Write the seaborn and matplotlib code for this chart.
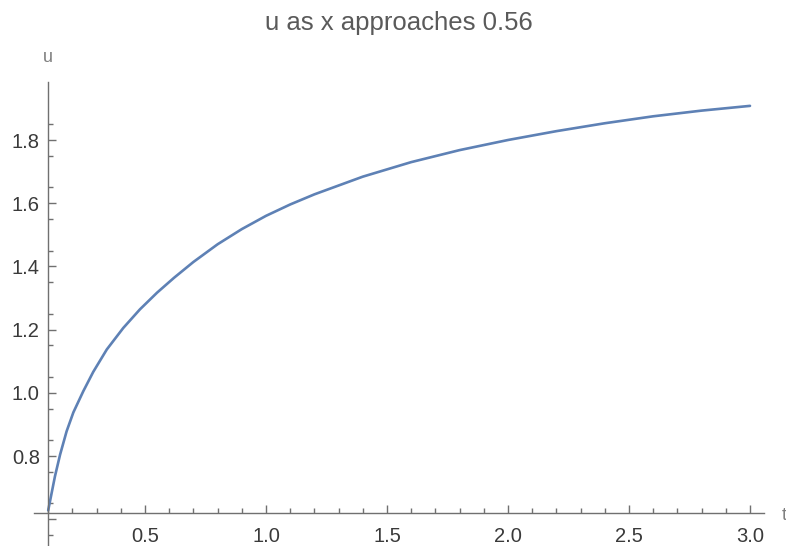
import numpy as np
import pandas as pd
import matplotlib
matplotlib.use("Agg")
import matplotlib.pyplot as plt
import seaborn as sns
from matplotlib.ticker import FixedLocator, FixedFormatter

# ---- data ----
t_vals = [0.100, 0.107, 0.128, 0.149, 0.176, 0.204, 0.245, 0.286, 0.342,
          0.410, 0.479, 0.55, 0.62, 0.70, 0.80, 0.90, 1.00, 1.10, 1.20,
          1.40, 1.60, 1.80, 2.00, 2.20, 2.40, 2.60, 2.80, 3.00]
u_vals = [0.628, 0.655, 0.736, 0.804, 0.878, 0.938, 1.005, 1.066, 1.137,
          1.205, 1.264, 1.317, 1.364, 1.414, 1.470, 1.518, 1.560, 1.596, 1.628,
          1.684, 1.730, 1.768, 1.800, 1.828, 1.853, 1.875, 1.893, 1.908]
x_major = [0.5, 1.0, 1.5, 2.0, 2.5, 3.0]
x_labels = ["0.5", "1.0", "1.5", "2.0", "2.5", "3.0"]
y_major = [0.6, 0.8, 1.0, 1.2, 1.4, 1.6, 1.8]
y_labels = ["", "0.8", "1.0", "1.2", "1.4", "1.6", "1.8"]
title = "u as x approaches 0.56"

df = pd.DataFrame({"t": t_vals, "u": u_vals})

sns.set_theme(style="white")
plt.rcParams['font.family'] = ['Liberation Sans', 'DejaVu Sans']

W, H = 786, 546
fig = plt.figure(figsize=(W / 100, H / 100), dpi=100)
ax = fig.add_axes([0, 0, 1, 1])
ax.patch.set_alpha(0)

# pixel -> data mapping
def px2t(px):
    return (px - 24.0) / 242.0

def py2u(py):
    return 0.8 + (456.0 - py) / 316.0

ax.set_xlim(px2t(0), px2t(W))
ax.set_ylim(py2u(H), py2u(0))

sns.lineplot(data=df, x="t", y="u", ax=ax, color="#5E81B5", linewidth=1.9,
             sort=False, estimator=None)

axis_col = "#707070"
x_origin = 0.1
y_origin = 0.62
for s in ["top", "right"]:
    ax.spines[s].set_visible(False)
ax.spines["left"].set_position(("data", x_origin))
ax.spines["bottom"].set_position(("data", y_origin))
ax.spines["left"].set_bounds(py2u(546), py2u(82))
ax.spines["bottom"].set_bounds(px2t(34), px2t(764))
for s in ["left", "bottom"]:
    ax.spines[s].set_color(axis_col)
    ax.spines[s].set_linewidth(1.0)

ax.xaxis.set_major_locator(FixedLocator(x_major))
ax.xaxis.set_major_formatter(FixedFormatter(x_labels))
ax.xaxis.set_minor_locator(FixedLocator([round(0.1 * i, 2) for i in range(1, 31) if i % 5 != 0]))
ax.yaxis.set_major_locator(FixedLocator(y_major))
ax.yaxis.set_major_formatter(FixedFormatter(y_labels))
ax.yaxis.set_minor_locator(FixedLocator([round(0.55 + 0.1 * i, 2) for i in range(0, 14)]))

ax.tick_params(axis="both", which="major", direction="in", length=6, width=1.0,
               color=axis_col, labelsize=14.5, labelcolor="#3a3a3a")
ax.tick_params(axis="both", which="minor", direction="in", length=3.5, width=1.0,
               color=axis_col)
ax.tick_params(axis="x", which="major", pad=10)
ax.tick_params(axis="y", which="major", pad=6)
ax.tick_params(axis="x", which="both", bottom=True, top=False)
ax.tick_params(axis="y", which="both", left=True, right=False)

ax.set_xlabel("")
ax.set_ylabel("")
ax.text(px2t(48), py2u(57), "u", fontsize=13, color="#808080",
        ha="center", va="center")
ax.text(px2t(784), py2u(515), "t", fontsize=13, color="#808080",
        ha="center", va="center")
fig.text(399 / W, 1 - 23 / H, title, fontsize=18.5, color="#5a5a5a",
         ha="center", va="center")

fig.savefig("out.png", dpi=100, facecolor="white")
